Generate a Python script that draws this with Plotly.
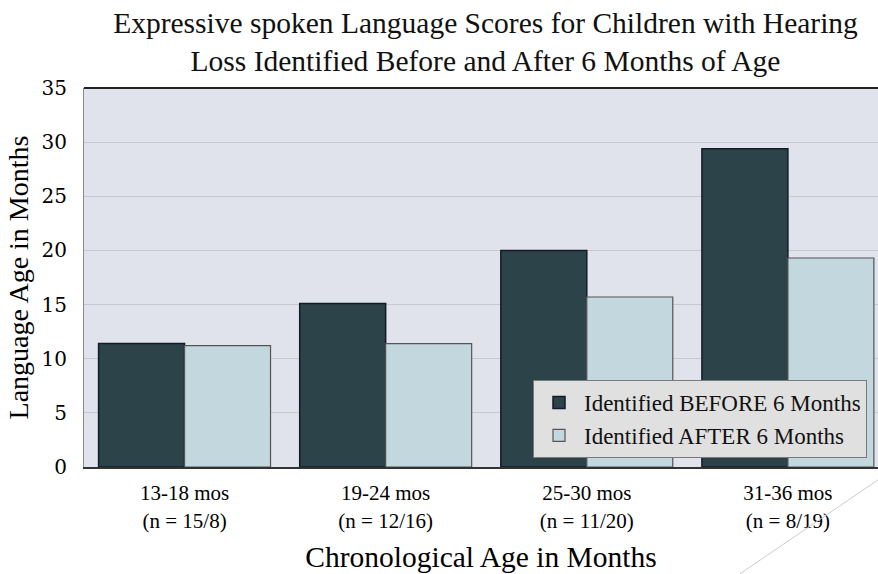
import plotly.graph_objects as go

categories = ["13-18 mos<br>(n = 15/8)", "19-24 mos<br>(n = 12/16)",
              "25-30 mos<br>(n = 11/20)", "31-36 mos<br>(n = 8/19)"]
before_vals = [11.4, 15.1, 20.0, 29.4]
after_vals = [11.2, 11.4, 15.7, 19.3]
series_names = ["Identified BEFORE 6 Months", "Identified AFTER 6 Months"]

FONT = "Liberation Serif"

fig = go.Figure()
fig.add_trace(go.Bar(x=categories, y=before_vals, name=series_names[0],
                     marker=dict(color="#2c4349", line=dict(color="#141a2a", width=1.5))))
fig.add_trace(go.Bar(x=categories, y=after_vals, name=series_names[1],
                     marker=dict(color="#c3d7de", line=dict(color="#555555", width=1.2))))

fig.update_layout(
    width=878, height=574,
    margin=dict(l=84, r=0, t=88, b=107),
    paper_bgcolor="white",
    plot_bgcolor="#e1e3ec",
    barmode="group",
    bargap=0.145,
    bargroupgap=0,
    font=dict(family=FONT, color="black"),
    title=dict(text="Expressive spoken Language Scores for Children with Hearing<br>Loss Identified Before and After 6 Months of Age",
               x=0.553, xanchor="center", y=0.943, yanchor="middle", yref="container",
               font=dict(family=FONT, size=29.5, color="#111111")),
    legend=dict(x=0.5655, y=0.2296, xanchor="left", yanchor="top",
                bgcolor="#e0e0e0", bordercolor="#7a7a7a", borderwidth=1,
                font=dict(family=FONT, size=23, color="#111111"),
                tracegroupgap=0, itemwidth=40),
    showlegend=True,
)
fig.update_xaxes(range=[-0.5, 3.448], showgrid=False, automargin=False,
                 showline=True, linecolor="#333333", linewidth=2,
                 ticks="outside", ticklen=6, tickcolor="rgba(0,0,0,0)",
                 tickfont=dict(family=FONT, size=21),
                 title=dict(text="Chronological Age in Months", standoff=15,
                            font=dict(family=FONT, size=29.5)))
fig.update_yaxes(range=[0, 35], dtick=5, showgrid=True, gridcolor="#c6c8cf", gridwidth=1,
                 showline=True, linecolor="#8a8a8a", linewidth=1, mirror=False,
                 zeroline=False, automargin=False,
                 ticks="outside", ticklen=12, tickcolor="rgba(0,0,0,0)",
                 tickfont=dict(family="DejaVu Serif", size=20),
                 title=dict(text="Language Age in Months", standoff=4,
                            font=dict(family=FONT, size=28)))
# top border of plot area
fig.add_shape(type="line", xref="paper", yref="paper", x0=0, x1=1, y0=1, y1=1,
              line=dict(color="#222222", width=2))
# decorative diagonal line
fig.add_shape(type="line", xref="paper", yref="paper", x0=0.826, y0=-0.282, x1=1.0, y1=-0.034,
              line=dict(color="#cccccc", width=1))

fig.write_html("out.html", config={"displayModeBar": False},
               post_script="document.body.style.margin='0';document.body.style.overflow='hidden';")
